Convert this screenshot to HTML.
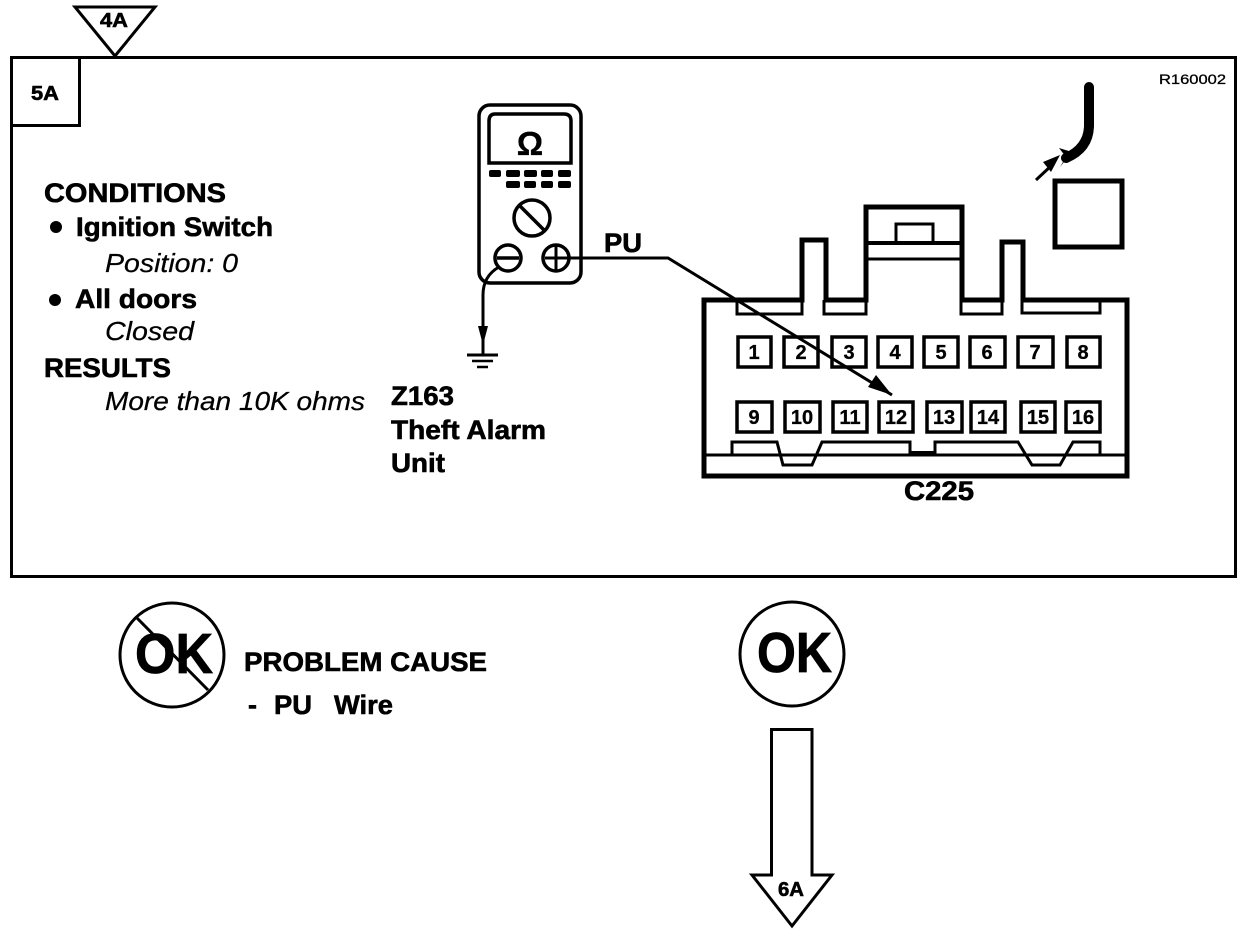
<!DOCTYPE html>
<html><head><meta charset="utf-8"><style>
html,body{margin:0;padding:0;background:#fff}
svg{display:block}
text{font-family:"Liberation Sans",sans-serif;fill:#000}
.b{font-weight:700;stroke:#000;stroke-width:.6}
.i{font-style:italic;stroke:#000;stroke-width:.25}
.p{font-weight:700;font-size:20px;text-anchor:middle;stroke:#000;stroke-width:.3}
</style></head><body>
<svg width="1248" height="934" viewBox="0 0 1248 934" xmlns="http://www.w3.org/2000/svg">
<g fill="none" stroke="#000" stroke-width="3">
<rect x="11.5" y="57.5" width="1224" height="519"/>
<rect x="11.5" y="57.5" width="68" height="68"/>
<path d="M75 7H155L115 56Z"/>
<circle cx="172" cy="655" r="52"/>
<circle cx="792" cy="654" r="52"/>
<path d="M771.500 729.500H812V875H832L792 926L752 875H771.500Z"/>
</g>
<text class="b" x="31" y="100" font-size="20" textLength="28" lengthAdjust="spacingAndGlyphs">5A</text>
<text class="b" x="100" y="27" font-size="20" textLength="28" lengthAdjust="spacingAndGlyphs">4A</text>
<text x="1159" y="84" font-size="14" textLength="67" lengthAdjust="spacingAndGlyphs" stroke="#000" stroke-width=".3">R160002</text>

<text class="b" x="44" y="202" font-size="27" textLength="182" lengthAdjust="spacingAndGlyphs">CONDITIONS</text>
<circle cx="56" cy="227" r="6"/>
<text class="b" x="76" y="236" font-size="27" textLength="197" lengthAdjust="spacingAndGlyphs">Ignition Switch</text>
<text class="i" x="105" y="272" font-size="26" textLength="133" lengthAdjust="spacingAndGlyphs">Position: 0</text>
<circle cx="55" cy="300" r="6"/>
<text class="b" x="75" y="308" font-size="27" textLength="122" lengthAdjust="spacingAndGlyphs">All doors</text>
<text class="i" x="105" y="340" font-size="26" textLength="89" lengthAdjust="spacingAndGlyphs">Closed</text>
<text class="b" x="44" y="377" font-size="27" textLength="127" lengthAdjust="spacingAndGlyphs">RESULTS</text>
<text class="i" x="105" y="410" font-size="26" textLength="260" lengthAdjust="spacingAndGlyphs">More than 10K ohms</text>
<text class="b" x="391" y="405" font-size="27" textLength="63" lengthAdjust="spacingAndGlyphs">Z163</text>
<text class="b" x="391" y="439" font-size="27" textLength="155" lengthAdjust="spacingAndGlyphs">Theft Alarm</text>
<text class="b" x="391" y="472" font-size="27" textLength="54" lengthAdjust="spacingAndGlyphs">Unit</text>
<text class="b" x="604" y="252" font-size="27" textLength="38" lengthAdjust="spacingAndGlyphs">PU</text>
<text class="b" x="904" y="500" font-size="27" textLength="70" lengthAdjust="spacingAndGlyphs">C225</text>

<!-- meter -->
<g fill="none" stroke="#000">
<rect x="479" y="105" width="102" height="178" rx="11" stroke-width="3.500"/>
<path d="M495 114H564Q571 114 571 121V163H489V121Q489 114 495 114Z" stroke-width="3.500"/>
<circle cx="532" cy="218" r="18" stroke-width="3.500"/>
<path d="M519 205L545 231" stroke-width="3.500"/>
<circle cx="508" cy="258" r="13" stroke-width="3.500"/>
<path d="M497 258H519" stroke-width="3.500"/>
<circle cx="556" cy="258" r="13" stroke-width="3.500"/>
<path d="M545 258H668L892 395M556 246V270" stroke-width="3"/>
<path d="M499 267Q483 276 483 295V355" stroke-width="3"/>
<path d="M467 355H498" stroke-width="3"/>
<path d="M472 361H493M477 367H488" stroke-width="2.500"/>
</g>
<text x="530" y="155" font-size="33" font-weight="700" text-anchor="middle" stroke="#000" stroke-width=".3">Ω</text>
<g>
<rect x="489" y="170" width="12" height="7" rx="2"/><rect x="506" y="170" width="14" height="7" rx="2"/><rect x="524" y="170" width="13" height="7" rx="2"/><rect x="541" y="170" width="12" height="7" rx="2"/><rect x="558" y="170" width="13" height="7" rx="2"/>
<rect x="506" y="181" width="14" height="7" rx="2"/><rect x="524" y="181" width="12" height="7" rx="2"/><rect x="541" y="181" width="12" height="7" rx="2"/><rect x="558" y="181" width="13" height="7" rx="2"/>
<path d="M478 326H488L483 345Z"/>
<path d="M892 395L868 387L876 375Z"/>
</g>

<!-- connector -->
<g fill="none" stroke="#000">
<path d="M704 476V300H802V240H826V300H866V207H962V300H1002V242H1023V300H1127V476Z" stroke-width="5"/>
<path d="M866 243H962" stroke-width="4"/>
<path d="M866 259H962" stroke-width="3"/>
<path d="M896 243V224H933V243" stroke-width="3"/>
<path d="M737 300V314H802V300M824 300V314H866V300M961 300V314H1002V300M1022 300V313H1100V300" stroke-width="3"/>
<path d="M704 455H1127" stroke-width="3"/>
<path d="M732 455V442H777L783 465H812L822 442H910V455M935 455V442H1018L1032 465H1060L1073 442H1100V455" stroke-width="3"/>
<path d="M910 453H935" stroke-width="4"/>
<g stroke-width="3.500">
<rect x="738" y="337" width="33" height="30"/><rect x="784" y="337" width="34" height="30"/><rect x="832" y="337" width="34" height="30"/><rect x="878" y="337" width="34" height="30"/><rect x="924" y="337" width="34" height="30"/><rect x="970" y="337" width="35" height="30"/><rect x="1018" y="337" width="35" height="30"/><rect x="1067" y="337" width="33" height="30"/>
<rect x="737" y="402" width="35" height="30"/><rect x="785" y="402" width="35" height="30"/><rect x="833" y="402" width="34" height="30"/><rect x="879" y="402" width="34" height="30"/><rect x="927" y="402" width="35" height="30"/><rect x="971" y="402" width="34" height="30"/><rect x="1021" y="402" width="34" height="30"/><rect x="1066" y="402" width="34" height="30"/>
</g>
<rect x="1055" y="181" width="67" height="66" stroke-width="5"/>
<path d="M1089 87V125Q1089 148 1066 158" stroke-width="10" stroke-linecap="round"/>
<path d="M1036 180L1052 165" stroke-width="3"/>
</g>
<path d="M1060 155L1043 162L1051 172Z"/>
<path d="M1059 148L1072 152L1060 167L1066 157Z"/>
<text class="p" x="754" y="359">1</text><text class="p" x="801" y="359">2</text><text class="p" x="849" y="359">3</text><text class="p" x="895" y="359">4</text><text class="p" x="941" y="359">5</text><text class="p" x="987" y="359">6</text><text class="p" x="1035" y="359">7</text><text class="p" x="1083" y="359">8</text>
<text class="p" x="754" y="424">9</text><text class="p" x="802" y="424">10</text><text class="p" x="850" y="424">11</text><text class="p" x="896" y="424">12</text><text class="p" x="944" y="424">13</text><text class="p" x="988" y="424">14</text><text class="p" x="1038" y="424">15</text><text class="p" x="1083" y="424">16</text>

<!-- bottom -->
<text x="135" y="673" font-size="57" font-weight="700" textLength="78" lengthAdjust="spacingAndGlyphs" stroke="#000" stroke-width=".8">OK</text>
<path d="M137 618L208 690" stroke="#000" stroke-width="3"/>
<text x="757" y="672" font-size="57" font-weight="700" textLength="75" lengthAdjust="spacingAndGlyphs" stroke="#000" stroke-width=".8">OK</text>
<text class="b" x="244" y="671" font-size="27" textLength="243" lengthAdjust="spacingAndGlyphs">PROBLEM CAUSE</text>
<text class="b" x="248" y="714" font-size="27">-</text>
<text class="b" x="274" y="714" font-size="27" textLength="38" lengthAdjust="spacingAndGlyphs">PU</text>
<text class="b" x="334" y="714" font-size="27" textLength="59" lengthAdjust="spacingAndGlyphs">Wire</text>
<text class="b" x="778" y="896" font-size="20" textLength="26" lengthAdjust="spacingAndGlyphs">6A</text>
</svg>
</body></html>
